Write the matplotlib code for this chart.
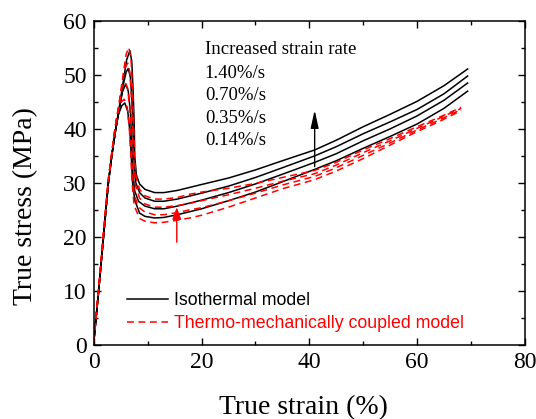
import numpy as np
import matplotlib
matplotlib.use('Agg')
import matplotlib.pyplot as plt
from matplotlib.ticker import MultipleLocator

# strain rates (labels)
rates = ['1.40%/s', '0.70%/s', '0.35%/s', '0.14%/s']

# --- isothermal model (black) ---
iso_140_x = [0, 0.9, 1.8, 2.7, 3.4, 4.0, 4.8, 5.5, 6.1, 6.7, 7.05, 7.3, 7.5, 7.6, 7.9, 8.5, 9.5, 11.3, 13, 15.5, 20, 25, 30, 35, 41, 45, 50, 55, 60, 65, 69.4]
iso_140_y = [0.6, 10, 20, 30, 35.5, 39.5, 44.5, 49, 52.8, 54.5, 52.5, 47, 41, 35, 31.5, 29.8, 28.8, 28.2, 28.2, 28.6, 29.7, 30.9, 32.4, 34.1, 36.1, 37.9, 40.4, 42.7, 45.1, 48.0, 51.1]
iso_070_x = [0, 0.9, 1.8, 2.7, 3.4, 4.0, 4.8, 5.5, 6.0, 6.4, 6.8, 7.1, 7.3, 7.45, 7.8, 8.5, 9.5, 11.3, 13, 15.5, 20, 25, 30, 35, 41, 45, 50, 55, 60, 65, 69.4]
iso_070_y = [0.6, 10, 20, 30, 35.5, 39.5, 44, 48.3, 50.5, 51.2, 49.5, 45, 39, 33.5, 30, 28.2, 27.2, 26.6, 26.6, 27.0, 28.1, 29.4, 31.0, 32.8, 35.0, 36.7, 39.1, 41.3, 43.6, 46.5, 49.8]
iso_035_x = [0, 0.9, 1.8, 2.7, 3.4, 4.0, 4.6, 5.3, 5.9, 6.4, 6.8, 7.05, 7.25, 7.6, 8.3, 9.5, 11.3, 13, 15.5, 20, 25, 30, 35, 41, 45, 50, 55, 60, 65, 69.4]
iso_035_y = [0.6, 10, 20, 30, 35.5, 39.5, 43, 46.8, 48.3, 47, 43, 37.5, 32, 28.5, 26.6, 25.7, 25.2, 25.2, 25.7, 26.8, 28.2, 29.8, 31.6, 33.8, 35.4, 37.8, 40.0, 42.4, 45.3, 48.5]
iso_014_x = [0, 0.9, 1.8, 2.7, 3.4, 4.0, 4.5, 5.2, 5.75, 6.3, 6.7, 7.0, 7.2, 7.6, 8.5, 9.5, 11.3, 13, 15.5, 20, 25, 30, 35, 41, 45, 50, 55, 60, 65, 69.4]
iso_014_y = [0.6, 10, 20, 30, 35.5, 39.5, 42.5, 44.3, 44.8, 43.3, 39.5, 34, 30, 26.8, 24.4, 23.8, 23.5, 23.6, 24.1, 25.2, 26.7, 28.3, 30.2, 32.5, 34.1, 36.4, 38.6, 40.9, 43.8, 47.0]

# --- thermo-mechanically coupled model (red dashed) ---
tmc_140_x = [0, 0.9, 1.8, 2.7, 3.4, 4.0, 4.8, 5.5, 6.0, 6.5, 6.9, 7.2, 7.4, 7.55, 7.85, 8.5, 9.5, 11.3, 13, 15.5, 17.8, 20, 25, 30, 35, 41, 45, 50, 55, 60, 64, 68.2]
tmc_140_y = [0.6, 10.3, 20.6, 30.6, 36, 40.5, 45.5, 50.5, 53.8, 55.1, 53, 47.5, 41, 35, 31, 28.8, 27.6, 27.0, 27.0, 27.3, 27.9, 28.3, 29.0, 29.9, 31.0, 32.3, 33.8, 36.1, 38.2, 40.4, 42.1, 44.0]
tmc_070_x = [0, 0.9, 1.8, 2.7, 3.4, 4.0, 4.8, 5.4, 5.9, 6.3, 6.7, 7.0, 7.2, 7.4, 7.75, 8.5, 9.5, 11.3, 13, 15.5, 17.8, 20, 25, 30, 35, 41, 45, 50, 55, 60, 64, 68.2]
tmc_070_y = [0.6, 10.3, 20.6, 30.6, 36, 40.5, 45, 49.3, 51.5, 52.2, 50.5, 45.5, 39.5, 33.5, 29.5, 27.2, 26.1, 25.5, 25.5, 25.8, 26.2, 26.7, 27.8, 29.0, 30.3, 31.7, 33.3, 35.6, 37.8, 40.1, 41.9, 43.8]
tmc_035_x = [0, 0.9, 1.8, 2.7, 3.4, 4.0, 4.6, 5.2, 5.8, 6.3, 6.7, 6.95, 7.15, 7.5, 8.3, 9.5, 11.3, 13, 15.5, 17.8, 20, 25, 30, 35, 41, 45, 50, 55, 60, 64, 68.2]
tmc_035_y = [0.6, 10.3, 20.6, 30.6, 36, 40.5, 44, 47.5, 48.7, 47.5, 43.5, 38, 32, 27.8, 25.5, 24.6, 24.1, 24.1, 24.5, 25.0, 25.4, 26.7, 28.1, 29.6, 31.2, 32.8, 35.1, 37.4, 39.8, 41.6, 43.6]
tmc_014_x = [0, 0.9, 1.8, 2.7, 3.4, 4.0, 4.5, 5.1, 5.65, 6.2, 6.6, 6.9, 7.1, 7.5, 8.5, 9.5, 11.3, 13, 15.5, 17.8, 20, 25, 30, 35, 41, 45, 50, 55, 60, 64, 68.2]
tmc_014_y = [0.6, 10.3, 20.6, 30.6, 36, 40.5, 43.2, 45.0, 45.5, 44, 40, 34.5, 30, 25.8, 23.4, 22.9, 22.6, 22.7, 23.1, 23.5, 24.0, 25.5, 27.2, 28.9, 30.6, 32.2, 34.5, 37.0, 39.5, 41.3, 43.4]

iso_x = [iso_140_x, iso_070_x, iso_035_x, iso_014_x]
iso_y = [iso_140_y, iso_070_y, iso_035_y, iso_014_y]
tmc_x = [tmc_140_x, tmc_070_x, tmc_035_x, tmc_014_x]
tmc_y = [tmc_140_y, tmc_070_y, tmc_035_y, tmc_014_y]

serif = 'Liberation Serif'
sans = 'Liberation Sans'

fig = plt.figure(figsize=(5.36, 4.19), dpi=100)
ax = fig.add_axes([0.175, 0.177, 0.804, 0.773])

for i in range(4):
    ax.plot(iso_x[i], iso_y[i], '-', color='black', lw=1.1,
            label='Isothermal model' if i == 0 else None)
for i in range(4):
    ax.plot(tmc_x[i], tmc_y[i], '--', color='red', lw=1.1, dashes=(4.5, 3),
            label='Thermo-mechanically coupled model' if i == 0 else None)

# arrows
ax.annotate('', xy=(41, 44), xytext=(41, 32.5),
            arrowprops=dict(arrowstyle='-|>,head_width=0.2,head_length=0.9',
                            color='black', lw=1.0, mutation_scale=12))
ax.annotate('', xy=(15.4, 26.0), xytext=(15.4, 18.5),
            arrowprops=dict(arrowstyle='-|>,head_width=0.3,head_length=0.8',
                            color='red', lw=1.0, mutation_scale=9))

ax.text(20.6, 54.8, 'Increased strain rate', family=serif, fontsize=13.5, va='center')
rate_y = [50.2, 46.1, 41.9, 37.8]
for r, yy in zip(rates, rate_y):
    ax.text(20.6, yy, r, family=serif, fontsize=13.5, va='center')

ax.set_xlim(0, 80)
ax.set_ylim(0, 60)
ax.xaxis.set_major_locator(MultipleLocator(20))
ax.xaxis.set_minor_locator(MultipleLocator(10))
ax.yaxis.set_major_locator(MultipleLocator(10))
ax.yaxis.set_minor_locator(MultipleLocator(5))
ax.tick_params(which='both', direction='in', top=True, right=True, width=1.0)
ax.tick_params(which='major', length=5, labelsize=17, pad=5)
ax.tick_params(which='minor', length=3)
for lab in ax.get_xticklabels() + ax.get_yticklabels():
    lab.set_family(serif)
for sp in ax.spines.values():
    sp.set_linewidth(1.1)

ax.set_xlabel('True strain (%)', family=serif, fontsize=20)
ax.set_ylabel('True stress (MPa)', family=serif, fontsize=20)
ax.xaxis.set_label_coords(0.486, -0.155)
ax.yaxis.set_label_coords(-0.13, 0.43)

leg = ax.legend(loc='lower left', bbox_to_anchor=(0.04, -0.01), frameon=False,
                prop={'family': sans, 'size': 12.8}, handlelength=2.3,
                handletextpad=0.35, labelspacing=0.35)
leg.get_texts()[1].set_color('red')

fig.savefig('out.png', dpi=100)
